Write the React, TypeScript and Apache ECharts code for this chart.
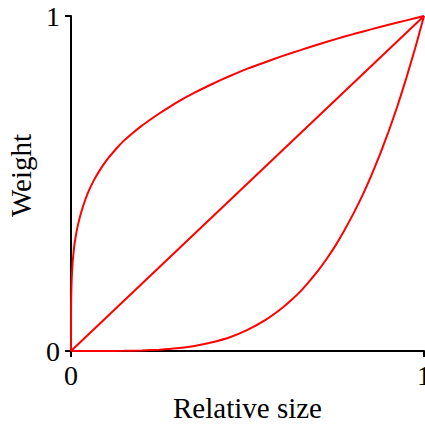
import React, { useEffect, useRef } from "react";
import * as echarts from "echarts";

const upperX = [0, 0.0002, 0.0005, 0.001, 0.002, 0.0035, 0.005, 0.0075, 0.01, 0.015, 0.02, 0.03, 0.04, 0.05, 0.065, 0.08, 0.1, 0.125, 0.15, 0.175, 0.2, 0.225, 0.25, 0.275, 0.3, 0.35, 0.4, 0.45, 0.5, 0.55, 0.6, 0.65, 0.7, 0.75, 0.8, 0.85, 0.9, 0.95, 1];
const upperY = [0, 0.12, 0.15, 0.18, 0.215, 0.245, 0.27, 0.297, 0.32, 0.352, 0.378, 0.418, 0.45, 0.477, 0.51, 0.537, 0.568, 0.6, 0.628, 0.651, 0.672, 0.691, 0.709, 0.726, 0.742, 0.771, 0.797, 0.821, 0.843, 0.862, 0.881, 0.898, 0.915, 0.931, 0.946, 0.96, 0.974, 0.987, 1];

const diagX = [0, 1];
const diagY = [0, 1];

const lowerX = [0, 0.1, 0.15, 0.2, 0.25, 0.3, 0.35, 0.4, 0.45, 0.5, 0.55, 0.6, 0.625, 0.65, 0.675, 0.7, 0.725, 0.75, 0.775, 0.8, 0.825, 0.85, 0.875, 0.9, 0.925, 0.95, 0.975, 1];
const lowerY = [0, 0.0001, 0.0005, 0.0016, 0.004, 0.008, 0.015, 0.026, 0.041, 0.063, 0.092, 0.13, 0.153, 0.178, 0.208, 0.24, 0.276, 0.316, 0.361, 0.41, 0.463, 0.522, 0.586, 0.656, 0.732, 0.815, 0.904, 1];

const xTicks = [0, 1];
const yTicks = [0, 1];

const zip = (xs: number[], ys: number[]) => xs.map((x, i) => [x, ys[i]]);

const FONT = "'Liberation Serif', 'Times New Roman', serif";

export default function App() {
  const ref = useRef<HTMLDivElement>(null);
  useEffect(() => {
    document.body.style.margin = "0";
    const chart = echarts.init(ref.current!, null, { renderer: "svg" });
    const axisCommon = {
      type: "value" as const,
      min: xTicks[0],
      max: xTicks[1],
      interval: 1,
      splitLine: { show: false },
      axisLine: { show: true, onZero: false, lineStyle: { color: "#000", width: 2 } },
      axisTick: { show: true, length: 6, lineStyle: { color: "#000", width: 2 } },
      nameLocation: "middle" as const,
    };
    const line = { color: "#ff0000", width: 2 };
    chart.setOption({
      animation: false,
      grid: { left: 71, right: 1, top: 16, bottom: 79, containLabel: false, outerBoundsMode: "none" },
      xAxis: {
        ...axisCommon,
        name: "Relative size",
        nameGap: 41,
        nameTextStyle: { fontFamily: FONT, fontSize: 29, color: "#000" },
        axisLabel: {
          fontFamily: FONT,
          fontSize: 28,
          color: "#000",
          margin: 10,
          formatter: (v: number) => (xTicks.includes(v) ? String(v) : ""),
        },
      },
      yAxis: {
        ...axisCommon,
        min: yTicks[0],
        max: yTicks[1],
        name: "Weight",
        nameGap: 32,
        nameTextStyle: { fontFamily: FONT, fontSize: 29, color: "#000", padding: [0, 0, 0, 16] },
        axisLabel: {
          fontFamily: FONT,
          fontSize: 28,
          color: "#000",
          margin: 11,
          formatter: (v: number) => (yTicks.includes(v) ? String(v) : ""),
        },
      },
      series: [
        { type: "line", data: zip(upperX, upperY), smooth: 0.15, showSymbol: false, lineStyle: line, z: 1 },
        { type: "line", data: zip(diagX, diagY), showSymbol: false, lineStyle: line, z: 1 },
        { type: "line", data: zip(lowerX, lowerY), smooth: 0.15, showSymbol: false, lineStyle: line, z: 1 },
      ],
    });
    return () => chart.dispose();
  }, []);
  return <div ref={ref} style={{ position: "absolute", left: 0, top: 0, width: 425, height: 430 }} />;
}
